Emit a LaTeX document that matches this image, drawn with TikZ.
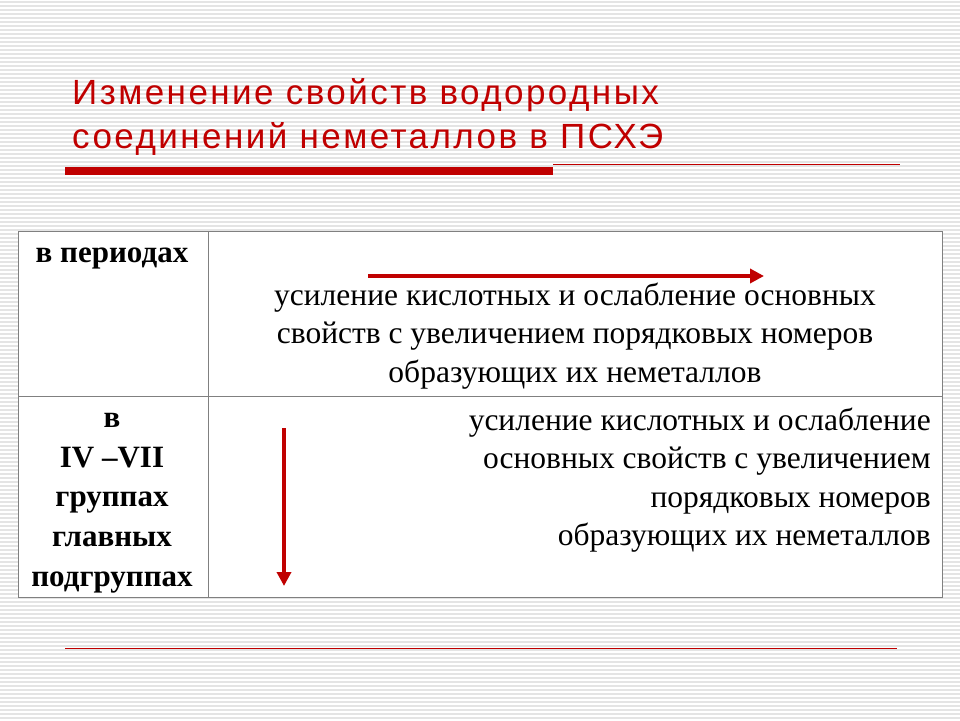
\documentclass[tikz,border=0pt]{standalone}
\usepackage{fontspec}
\setmainfont{Liberation Serif}
\newfontfamily\titlefont[LetterSpace=7]{Liberation Sans}
\usetikzlibrary{arrows.meta}
\definecolor{slidered}{RGB}{192,0,0}
\definecolor{stripe}{RGB}{228,228,228}
\tikzset{
  celltext/.style={font=\fontsize{31.5}{38.5}\selectfont, align=center, inner sep=0pt},
  headtext/.style={font=\bfseries\fontsize{31}{39.7}\selectfont, align=center, inner sep=0pt},
  trend/.style={slidered, line width=4.5pt, -{Triangle[length=14pt,width=14pt]}}
}
\begin{document}
\begin{tikzpicture}[x=1pt,y=-1pt]
                \useasboundingbox (0,0) rectangle (960,720);
                \fill[white] (0,0) rectangle (960,720);
                \foreach \yy in {2,6,...,718}
                  \draw[stripe, line width=1.2pt] (0,\yy) -- (960,\yy);
                % title
                \node[anchor=west, slidered, inner sep=0pt, align=left,
                      font=\titlefont\fontsize{35}{44}\selectfont] (title) at (72,117)
                  {Изменение свойств водородных\\соединений неметаллов в ПСХЭ};
                \fill[slidered] (65,167) rectangle (553,175);
                \draw[slidered, line width=0.8pt] (553,164) -- (900,164);
                \draw[slidered, line width=0.8pt] (65,648) -- (897,648);
                % table
                \filldraw[fill=white, draw=gray, line width=1pt] (18,231) rectangle (942,597);
                \draw[gray, line width=1pt] (208,231) -- (208,597);
                \draw[gray, line width=1pt] (18,396) -- (942,396);
                \node[headtext] (periods) at (112,258) {в периодах};
                \node[headtext] (groups) at (112,503)
                  {в\\IV –VII\\группах\\главных\\подгруппах};
                \node[celltext] (rowone) at (575,336)
                  {усиление кислотных и ослабление основных\\свойств с увеличением порядковых номеров\\образующих их неметаллов};
                \node[celltext, align=right, anchor=east] (rowtwo) at (931,480)
                  {усиление кислотных и ослабление\\основных свойств с увеличением\\порядковых номеров\\образующих их неметаллов};
                \coordinate (hstart) at (368,276);
                \coordinate (hend) at (764,276);
                \coordinate (vstart) at (284,428);
                \coordinate (vend) at (284,586);
                \draw[trend] (hstart) -- (hend);
                \draw[trend] (vstart) -- (vend);
\end{tikzpicture}
\end{document}
